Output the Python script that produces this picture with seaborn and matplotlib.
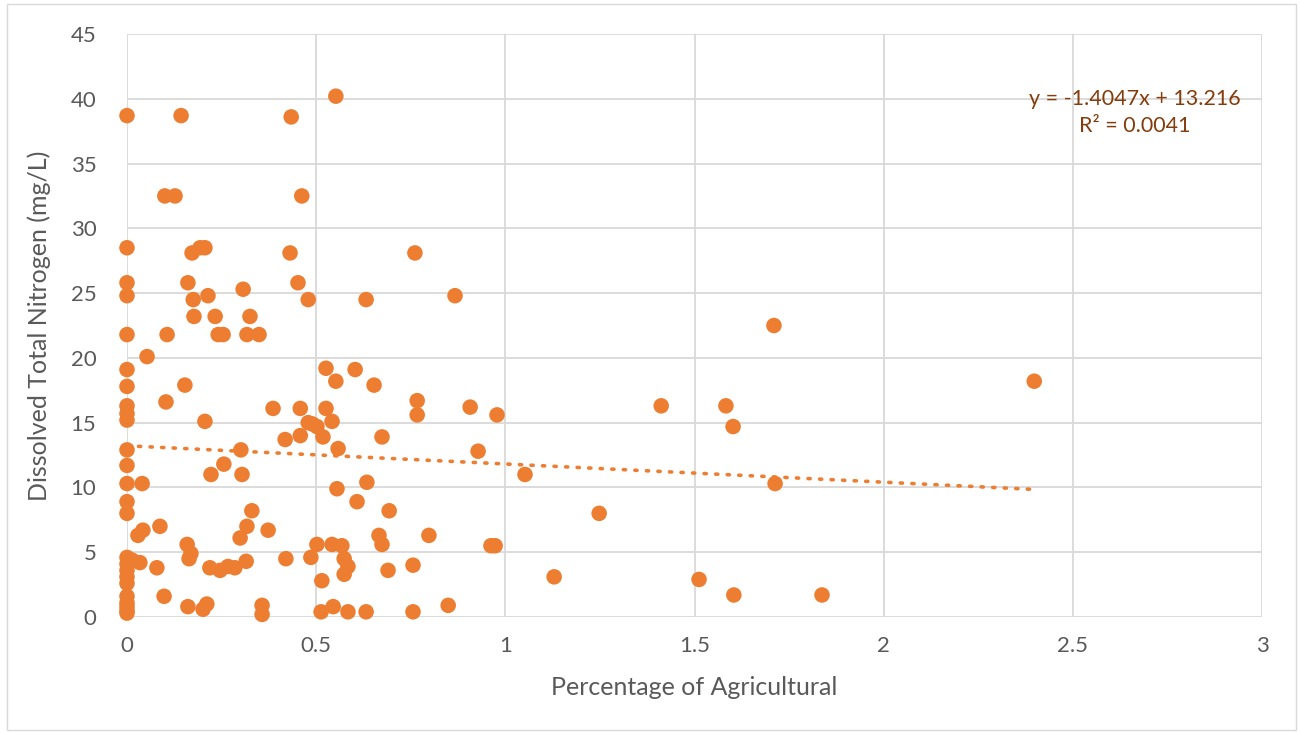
import seaborn as sns
import matplotlib.pyplot as plt
import pandas as pd
import numpy as np
from matplotlib.patches import Rectangle

# Percentage of agricultural land (x) and dissolved total nitrogen (y)
agri_zero_tn = [38.7, 28.5, 25.8, 24.8, 21.8, 19.1, 17.8, 16.3, 15.7, 15.2, 12.9, 11.7,
                10.3, 8.9, 8.0, 4.6, 4.1, 3.6, 3.1, 2.6, 1.6, 1.1, 0.8, 0.5, 0.3]

agri_pct = [0.013, 0.029, 0.034, 0.042, 0.040, 0.053, 0.079, 0.087, 0.098, 0.100,
            0.103, 0.106, 0.127, 0.143, 0.153, 0.159, 0.161, 0.161, 0.164, 0.169,
            0.172, 0.175, 0.177, 0.193, 0.201, 0.206, 0.206, 0.211, 0.214, 0.219,
            0.222, 0.233, 0.241, 0.246, 0.254, 0.256, 0.267, 0.285, 0.299, 0.301,
            0.304, 0.307, 0.315, 0.317, 0.317, 0.325, 0.330, 0.349, 0.357, 0.357,
            0.373, 0.386, 0.418, 0.420, 0.431, 0.434, 0.452, 0.458, 0.458, 0.462,
            0.479, 0.479, 0.486, 0.490, 0.502, 0.502, 0.513, 0.515, 0.518, 0.526,
            0.526, 0.542, 0.542, 0.545, 0.552, 0.552, 0.555, 0.558, 0.568, 0.574,
            0.574, 0.584, 0.584, 0.603, 0.608, 0.632, 0.632, 0.634, 0.653, 0.666,
            0.674, 0.674, 0.690, 0.693, 0.756, 0.756, 0.761, 0.767, 0.767, 0.798,
            0.849, 0.867, 0.907, 0.928, 0.962, 0.973, 0.978, 1.052, 1.129, 1.248,
            1.412, 1.512, 1.583, 1.602, 1.604, 1.710, 1.713, 1.837, 2.398]
tn_mgl = [4.4, 6.3, 4.2, 6.7, 10.3, 20.1, 3.8, 7.0, 1.6, 32.5,
          16.6, 21.8, 32.5, 38.7, 17.9, 5.6, 25.8, 0.8, 4.5, 4.9,
          28.1, 24.5, 23.2, 28.5, 0.6, 28.5, 15.1, 1.0, 24.8, 3.8,
          11.0, 23.2, 21.8, 3.6, 21.8, 11.8, 3.9, 3.8, 6.1, 12.9,
          11.0, 25.3, 4.3, 7.0, 21.8, 23.2, 8.2, 21.8, 0.9, 0.2,
          6.7, 16.1, 13.7, 4.5, 28.1, 38.6, 25.8, 16.1, 14.0, 32.5,
          24.5, 15.0, 4.6, 14.9, 14.7, 5.6, 0.4, 2.8, 13.9, 19.2,
          16.1, 15.1, 5.6, 0.8, 40.2, 18.2, 9.9, 13.0, 5.5, 4.5,
          3.3, 3.9, 0.4, 19.1, 8.9, 24.5, 0.4, 10.4, 17.9, 6.3,
          5.6, 13.9, 3.6, 8.2, 4.0, 0.4, 28.1, 16.7, 15.6, 6.3,
          0.9, 24.8, 16.2, 12.8, 5.5, 5.5, 15.6, 11.0, 3.1, 8.0,
          16.3, 2.9, 16.3, 14.7, 1.7, 22.5, 10.3, 1.7, 18.2]

# Excel linear trendline as shown on the chart
slope = -1.4047
intercept = 13.216
r_squared = 0.0041

x_ticks = [0, 0.5, 1, 1.5, 2, 2.5, 3]
x_tick_labels = ['0', '0.5', '1', '1.5', '2', '2.5', '3']
y_ticks = list(range(0, 50, 5))

data = pd.DataFrame({
    'agri': [0.0] * len(agri_zero_tn) + agri_pct,
    'tn': agri_zero_tn + tn_mgl,
})

sns.set_theme(style='white')
plt.rcParams['font.family'] = ['Lato', 'DejaVu Sans']

orange = '#ED7D31'
grid_col = '#D9D9D9'
text_col = '#595959'

fig = plt.figure(figsize=(13, 7.34), dpi=100)
ax = fig.add_axes([127 / 1300, 117 / 734, 1135 / 1300, 583 / 734])

ax.set_axisbelow(True)
ax.grid(True, color=grid_col, linewidth=1.3)

sns.scatterplot(data=data, x='agri', y='tn', ax=ax, color=orange,
                s=125, edgecolor='none', linewidth=0, zorder=3, clip_on=False)

# trendline over the data range
xs = np.array([data['agri'].min(), data['agri'].max()])
ax.plot(xs, intercept + slope * xs, color=orange, linestyle=(0, (0.6, 2.6)),
        linewidth=2.6, dash_capstyle='round', zorder=2)

ax.set_xlim(0, 3)
ax.set_ylim(0, 45)
ax.set_xticks(x_ticks)
ax.set_xticklabels(x_tick_labels)
ax.set_yticks(y_ticks)
ax.tick_params(axis='x', length=0, labelsize=16, labelcolor=text_col, pad=14)
ax.tick_params(axis='y', length=0, labelsize=16, labelcolor=text_col, pad=22)
for s in ax.spines.values():
    s.set_visible(False)

ax.set_xlabel('Percentage of Agricultural', fontsize=18, color=text_col, labelpad=14)
ax.set_ylabel('Dissolved Total Nitrogen (mg/L)', fontsize=18, color=text_col, labelpad=14)

sign = '-' if slope < 0 else '+'
eq_text = f'y = {sign}{abs(slope):.4f}x + {intercept:.3f}\nR² = {r_squared:.4f}'
ax.text(0.888, 0.865, eq_text, transform=ax.transAxes, ha='center', va='center',
        fontsize=15.5, color='#843C0C', linespacing=1.45)

# light chart-area border
fig.patches.append(Rectangle((7 / 1300, 4 / 734), 1289 / 1300, 726 / 734,
                             transform=fig.transFigure, fill=False,
                             edgecolor='#D9D9D9', linewidth=1))

fig.savefig('out.png', dpi=100, facecolor='white')
